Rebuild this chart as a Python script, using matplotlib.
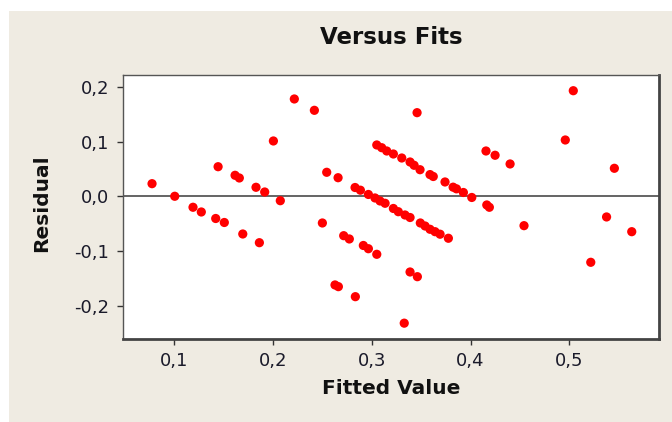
import matplotlib
matplotlib.use("Agg")
import matplotlib.pyplot as plt
from matplotlib.patches import Rectangle
from matplotlib.ticker import FuncFormatter, FixedLocator

# Data (fitted value, residual)
fitted = [
    # line A
    0.0774, 0.1004, 0.1189, 0.1273, 0.1419, 0.1506, 0.1693, 0.1861,
    # line B
    0.1443, 0.1615, 0.1658, 0.1827, 0.1915, 0.2073,
    # line C
    0.2003, 0.2543, 0.2658,
    # line D
    0.2499, 0.2715, 0.2772, 0.2914, 0.2965, 0.3050,
    # line E
    0.2627, 0.2661, 0.2833,
    # singles low
    0.3328, 0.3387, 0.3461,
    # line F
    0.2830, 0.2884, 0.2965, 0.3032, 0.3083, 0.3134, 0.3218, 0.3268,
    0.3336, 0.3387, 0.3491, 0.3539, 0.3589, 0.3640, 0.3691, 0.3775,
    # line G
    0.3050, 0.3100, 0.3151, 0.3218, 0.3303, 0.3387, 0.3428, 0.3488,
    0.3589, 0.3622, 0.3741, 0.3823, 0.3857, 0.3927, 0.4012, 0.4164, 0.4190,
    # others
    0.2215, 0.2418, 0.3458, 0.4156, 0.4248, 0.4400, 0.4541, 0.4959,
    0.5040, 0.5217, 0.5377, 0.5456, 0.5632,
]
residual = [
    0.0234, 0.0004, -0.0197, -0.0283, -0.0402, -0.0475, -0.0685, -0.0844,
    0.0544, 0.0387, 0.0338, 0.0168, 0.0082, -0.0077,
    0.1014, 0.0442, 0.0343,
    -0.0484, -0.0716, -0.0776, -0.0895, -0.0954, -0.1056,
    -0.1616, -0.1647, -0.1830,
    -0.2314, -0.1379, -0.1465,
    0.0164, 0.0115, 0.0037, -0.0027, -0.0082, -0.0124, -0.0219, -0.0278,
    -0.0338, -0.0384, -0.0484, -0.0539, -0.0599, -0.0643, -0.0689, -0.0763,
    0.0941, 0.0891, 0.0831, 0.0776, 0.0703, 0.0630, 0.0570, 0.0489,
    0.0400, 0.0365, 0.0265, 0.0170, 0.0140, 0.0073, -0.0018, -0.0155, -0.0197,
    0.1781, 0.1574, 0.1531, 0.0831, 0.0753, 0.0594, -0.0533, 0.1032,
    0.1932, -0.1202, -0.0374, 0.0515, -0.0643,
]
x_ticks = [0.1, 0.2, 0.3, 0.4, 0.5]
y_ticks = [-0.2, -0.1, 0.0, 0.1, 0.2]
title = "Versus Fits"
x_label = "Fitted Value"
y_label = "Residual"

W, H = 672, 422
fig = plt.figure(figsize=(W / 100, H / 100), dpi=100, facecolor="white")
bg = Rectangle((9 / W, 0), 1 - 9 / W, 1 - 11 / H,
               transform=fig.transFigure, facecolor="#EFEBE2",
               edgecolor="none", zorder=-10)
fig.add_artist(bg)

ax = fig.add_axes([123 / W, 1 - 338.5 / H, (659 - 123) / W, (338.5 - 75) / H])
ax.set_zorder(1)
ax.set_facecolor("white")
ax.scatter(fitted, residual, s=44, color="#FF0000", edgecolors="none", zorder=3)
ax.axhline(0, color="#3a3a3a", lw=1.1, zorder=2)

ax.set_xlim(0.048, 0.5908)
ax.set_ylim(-0.2594, 0.2219)
ax.xaxis.set_major_locator(FixedLocator(x_ticks))
ax.yaxis.set_major_locator(FixedLocator(y_ticks))
fmt = FuncFormatter(lambda v, p: f"{v:.1f}".replace(".", ",").replace("-0,0", "0,0"))
ax.xaxis.set_major_formatter(fmt)
ax.yaxis.set_major_formatter(fmt)
ax.tick_params(direction="out", length=4, width=1, color="#333333",
               labelsize=13, labelcolor="#1a1a2a", pad=6)

for side in ["top", "left"]:
    ax.spines[side].set_color("#555555")
    ax.spines[side].set_linewidth(1.0)
for side in ["bottom", "right"]:
    ax.spines[side].set_color("#444444")
    ax.spines[side].set_linewidth(2.0)

fig.text(391 / W, 1 - 38 / H, title, ha="center", va="center",
         fontsize=16.5, fontweight="bold", color="#111111")
fig.text(391 / W, 1 - 388 / H, x_label, ha="center", va="center",
         fontsize=14.5, fontweight="bold", color="#111111")
fig.text(42 / W, 1 - 203 / H, y_label, ha="center", va="center", rotation=90,
         fontsize=14.5, fontweight="bold", color="#111111")

fig.savefig("out.png", dpi=100, facecolor=fig.get_facecolor())
